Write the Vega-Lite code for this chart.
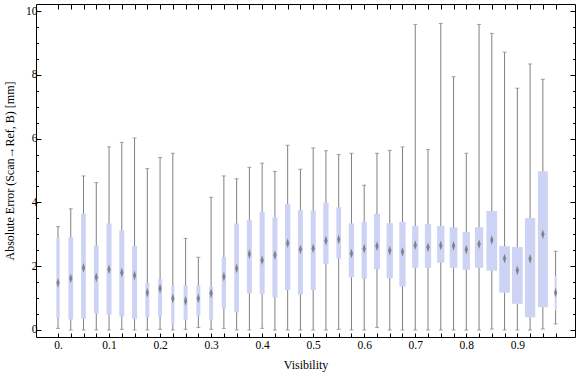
{
  "$schema": "https://vega.github.io/schema/vega-lite/v6.json",
  "width": 539,
  "height": 333,
  "autosize": {"type": "none"},
  "padding": {"left": 36, "top": 4, "right": 1, "bottom": 40},
  "background": "white",
  "config": {
    "view": {"stroke": "black", "strokeWidth": 1},
    "font": "Liberation Serif",
    "axis": {
      "domain": false,
      "grid": false,
      "labelFont": "Liberation Serif",
      "labelFontSize": 11.5,
      "labelColor": "#000000",
      "titleFont": "Liberation Serif",
      "titleFontSize": 12,
      "titleFontWeight": "normal",
      "titleColor": "#000000",
      "tickColor": "#000000",
      "tickWidth": 1
    }
  },
  "data": {
    "values": [
      {"v": 0, "lo": 0.05, "q1": 0.37, "med": 1.48, "q3": 2.88, "hi": 3.24, "n": 33},
      {"v": 0.025, "lo": 0, "q1": 0.33, "med": 1.62, "q3": 2.91, "hi": 3.8, "n": 47},
      {"v": 0.05, "lo": 0, "q1": 0.35, "med": 1.95, "q3": 3.64, "hi": 4.83, "n": 47},
      {"v": 0.075, "lo": 0, "q1": 0.52, "med": 1.65, "q3": 2.65, "hi": 4.62, "n": 47},
      {"v": 0.1, "lo": 0, "q1": 0.48, "med": 1.9, "q3": 3.34, "hi": 5.74, "n": 50},
      {"v": 0.125, "lo": 0.02, "q1": 0.42, "med": 1.8, "q3": 3.13, "hi": 5.88, "n": 50},
      {"v": 0.15, "lo": 0, "q1": 0.34, "med": 1.71, "q3": 2.63, "hi": 6.02, "n": 50},
      {"v": 0.175, "lo": 0, "q1": 0.4, "med": 1.17, "q3": 1.47, "hi": 5.06, "n": 40},
      {"v": 0.2, "lo": 0.02, "q1": 0.42, "med": 1.3, "q3": 1.6, "hi": 5.41, "n": 40},
      {"v": 0.225, "lo": 0, "q1": 0.18, "med": 0.99, "q3": 1.4, "hi": 5.54, "n": 32},
      {"v": 0.25, "lo": 0.02, "q1": 0.31, "med": 0.91, "q3": 1.4, "hi": 2.87, "n": 40},
      {"v": 0.275, "lo": 0.08, "q1": 0.45, "med": 0.99, "q3": 1.4, "hi": 2.28, "n": 40},
      {"v": 0.3, "lo": 0.02, "q1": 0.31, "med": 1.15, "q3": 1.35, "hi": 4.16, "n": 40},
      {"v": 0.325, "lo": 0.05, "q1": 0.67, "med": 1.67, "q3": 2.28, "hi": 4.83, "n": 43},
      {"v": 0.35, "lo": 0, "q1": 0.55, "med": 1.93, "q3": 3.34, "hi": 4.74, "n": 47},
      {"v": 0.375, "lo": 0, "q1": 1.15, "med": 2.38, "q3": 3.45, "hi": 5.1, "n": 50},
      {"v": 0.4, "lo": 0.05, "q1": 1.13, "med": 2.19, "q3": 3.7, "hi": 5.23, "n": 50},
      {"v": 0.425, "lo": 0, "q1": 1.02, "med": 2.35, "q3": 3.53, "hi": 4.97, "n": 50},
      {"v": 0.45, "lo": 0, "q1": 1.25, "med": 2.72, "q3": 3.95, "hi": 5.79, "n": 53},
      {"v": 0.475, "lo": 0, "q1": 1.11, "med": 2.53, "q3": 3.76, "hi": 5.04, "n": 50},
      {"v": 0.5, "lo": 0, "q1": 1.25, "med": 2.56, "q3": 3.74, "hi": 5.71, "n": 50},
      {"v": 0.525, "lo": 0, "q1": 2.07, "med": 2.8, "q3": 3.99, "hi": 5.62, "n": 53},
      {"v": 0.55, "lo": 0.02, "q1": 2.24, "med": 2.84, "q3": 3.85, "hi": 5.5, "n": 47},
      {"v": 0.575, "lo": 0, "q1": 1.65, "med": 2.4, "q3": 3.34, "hi": 5.54, "n": 53},
      {"v": 0.6, "lo": 0, "q1": 1.61, "med": 2.55, "q3": 3.39, "hi": 4.54, "n": 53},
      {"v": 0.625, "lo": 0.08, "q1": 1.9, "med": 2.63, "q3": 3.64, "hi": 5.54, "n": 60},
      {"v": 0.65, "lo": 0, "q1": 1.62, "med": 2.49, "q3": 3.35, "hi": 5.63, "n": 63},
      {"v": 0.675, "lo": 0, "q1": 1.36, "med": 2.45, "q3": 3.39, "hi": 5.74, "n": 63},
      {"v": 0.7, "lo": 0, "q1": 1.95, "med": 2.66, "q3": 3.26, "hi": 9.58, "n": 63},
      {"v": 0.725, "lo": 0, "q1": 1.95, "med": 2.59, "q3": 3.32, "hi": 5.66, "n": 63},
      {"v": 0.75, "lo": 0, "q1": 2.11, "med": 2.65, "q3": 3.26, "hi": 9.61, "n": 73},
      {"v": 0.775, "lo": 0, "q1": 1.95, "med": 2.64, "q3": 3.22, "hi": 7.94, "n": 77},
      {"v": 0.8, "lo": 0, "q1": 1.89, "med": 2.52, "q3": 3.07, "hi": 5.54, "n": 73},
      {"v": 0.825, "lo": 0, "q1": 1.95, "med": 2.69, "q3": 3.22, "hi": 9.58, "n": 83},
      {"v": 0.85, "lo": 0.03, "q1": 1.86, "med": 2.82, "q3": 3.73, "hi": 9.3, "n": 107},
      {"v": 0.875, "lo": 0, "q1": 1.17, "med": 2.24, "q3": 2.63, "hi": 8.71, "n": 107},
      {"v": 0.9, "lo": 0, "q1": 0.82, "med": 1.87, "q3": 2.6, "hi": 7.58, "n": 107},
      {"v": 0.925, "lo": 0, "q1": 0.4, "med": 2.23, "q3": 3.51, "hi": 8.34, "n": 103},
      {"v": 0.95, "lo": 0.03, "q1": 0.71, "med": 3.0, "q3": 4.98, "hi": 7.86, "n": 100},
      {"v": 0.975, "lo": 0.19, "q1": 0.61, "med": 1.17, "q3": 1.69, "hi": 2.47, "n": 20}
    ]
  },
  "resolve": {"axis": {"x": "independent", "y": "independent"}},
  "layer": [
    {
      "mark": {"type": "rule", "color": "#808080", "strokeWidth": 1},
      "encoding": {
        "x": {
          "field": "v", "type": "quantitative",
          "scale": {"domain": [-0.0333, 1.0032], "nice": false, "zero": false},
          "axis": {
            "orient": "bottom",
            "title": "Visibility",
            "values": [0, 0.025, 0.05, 0.075, 0.1, 0.125, 0.15, 0.175, 0.2, 0.225, 0.25, 0.275, 0.3, 0.325, 0.35, 0.375, 0.4, 0.425, 0.45, 0.475, 0.5, 0.525, 0.55, 0.575, 0.6, 0.625, 0.65, 0.675, 0.7, 0.725, 0.75, 0.775, 0.8, 0.825, 0.85, 0.875, 0.9, 0.925, 0.95, 0.975],
            "labelExpr": "abs(datum.value*10 - round(datum.value*10)) < 0.000001 ? (datum.value == 0 ? '0.' : format(datum.value, '.1f')) : ''",
            "tickSize": -4,
            "labelPadding": 6,
            "labelOverlap": false,
            "labelFlush": false,
            "titlePadding": 9
          }
        },
        "y": {
          "field": "lo", "type": "quantitative",
          "scale": {"domain": [-0.22, 10.22], "nice": false, "zero": false},
          "axis": {
            "orient": "left",
            "title": "Absolute Error (Scan→Ref, B) [mm]",
            "values": [0, 0.5, 1, 1.5, 2, 2.5, 3, 3.5, 4, 4.5, 5, 5.5, 6, 6.5, 7, 7.5, 8, 8.5, 9, 9.5, 10],
            "labelExpr": "datum.value % 2 === 0 ? format(datum.value, 'd') : ''",
            "tickSize": {"condition": {"test": "datum.value % 2 === 0", "value": -5}, "value": -2.5},
            "labelPadding": 4,
            "labelOverlap": false,
            "labelFlush": false,
            "titlePadding": 9
          }
        },
        "y2": {"field": "hi"}
      }
    },
    {
      "mark": {"type": "tick", "color": "#808080", "orient": "horizontal", "size": 4, "thickness": 1},
      "encoding": {
        "x": {"field": "v", "type": "quantitative", "axis": null},
        "y": {"field": "lo", "type": "quantitative", "axis": null}
      }
    },
    {
      "mark": {"type": "tick", "color": "#808080", "orient": "horizontal", "size": 4, "thickness": 1},
      "encoding": {
        "x": {"field": "v", "type": "quantitative", "axis": null},
        "y": {"field": "hi", "type": "quantitative", "axis": null}
      }
    },
    {
      "mark": {"type": "bar", "color": "#cdd3f5"},
      "encoding": {
        "x": {"field": "v", "type": "quantitative", "axis": null},
        "y": {"field": "q1", "type": "quantitative", "axis": null},
        "y2": {"field": "q3"},
        "size": {"field": "n", "type": "quantitative", "scale": {"domain": [0, 107], "range": [0, 10.7]}, "legend": null}
      }
    },
    {
      "mark": {"type": "point", "shape": "M0,-1L0.33,0L0,1L-0.33,0Z", "filled": true, "color": "#737373", "opacity": 0.85, "size": 95},
      "encoding": {
        "x": {"field": "v", "type": "quantitative", "axis": null},
        "y": {"field": "med", "type": "quantitative", "axis": null}
      }
    },
    {
      "mark": {"type": "point", "opacity": 0},
      "encoding": {
        "x": {
          "field": "v", "type": "quantitative",
          "axis": {
            "orient": "top", "title": null, "labels": false,
            "values": [0, 0.025, 0.05, 0.075, 0.1, 0.125, 0.15, 0.175, 0.2, 0.225, 0.25, 0.275, 0.3, 0.325, 0.35, 0.375, 0.4, 0.425, 0.45, 0.475, 0.5, 0.525, 0.55, 0.575, 0.6, 0.625, 0.65, 0.675, 0.7, 0.725, 0.75, 0.775, 0.8, 0.825, 0.85, 0.875, 0.9, 0.925, 0.95, 0.975],
            "tickSize": -5
          }
        },
        "y": {
          "field": "med", "type": "quantitative",
          "axis": {
            "orient": "right", "title": null, "labels": false,
            "values": [0, 0.5, 1, 1.5, 2, 2.5, 3, 3.5, 4, 4.5, 5, 5.5, 6, 6.5, 7, 7.5, 8, 8.5, 9, 9.5, 10],
            "tickSize": {"condition": {"test": "datum.value % 2 === 0", "value": -5}, "value": -2.5}
          }
        }
      }
    }
  ]
}
